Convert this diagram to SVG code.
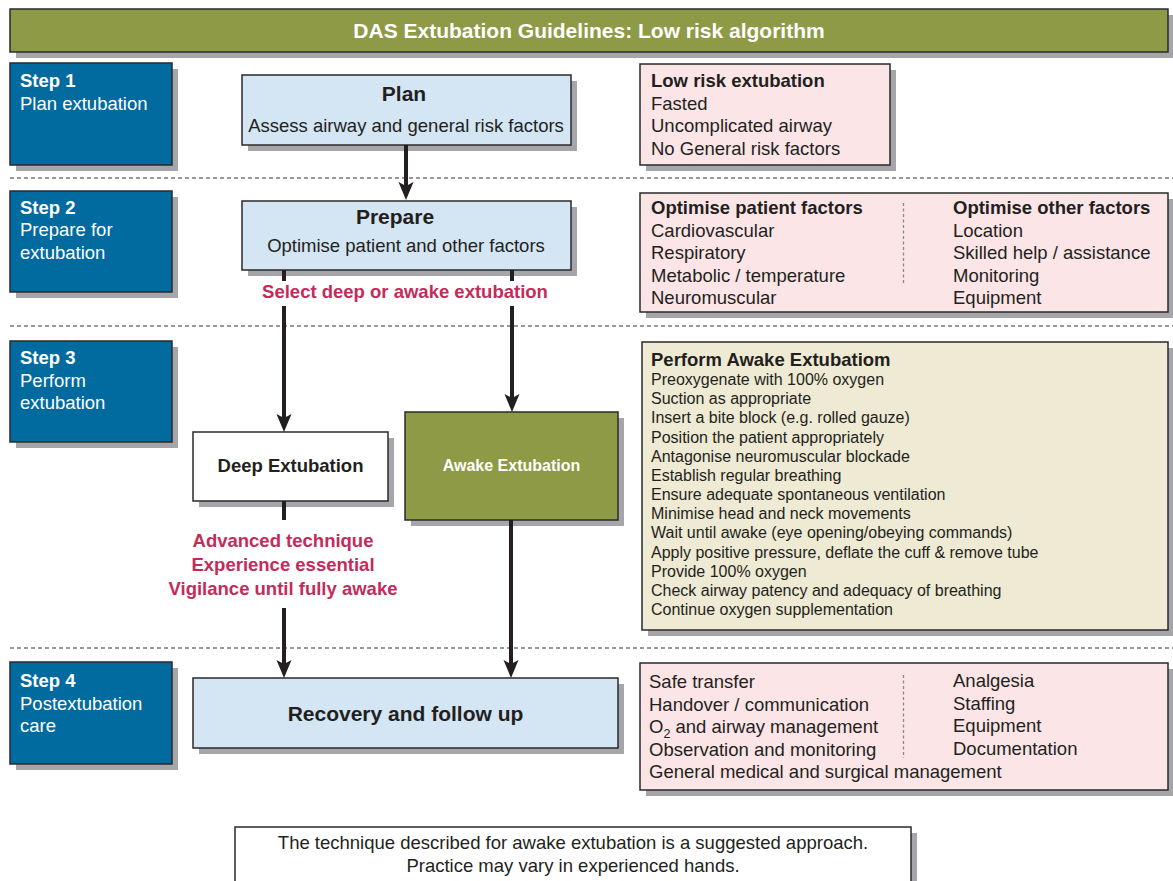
<svg xmlns="http://www.w3.org/2000/svg" width="1173" height="881" viewBox="0 0 1173 881">
  <style>
    text { font-family: "Liberation Sans", Arial, Helvetica, sans-serif; fill: #231f20; }
    .sh { fill: #a6a6aa; }
    .box { stroke: #2a2a2a; stroke-width: 1.5; }
    .olive { fill: #8e9a45; }
    .step { fill: #016a9f; }
    .blue { fill: #d4e5f4; }
    .pink { fill: #fbe5e7; }
    .beige { fill: #eeead3; }
    .white { fill: #ffffff; }
    .t { font-size: 18.5px; }
    .b { font-weight: bold; }
    .w { fill: #ffffff; }
    .h { font-size: 21px; font-weight: bold; }
    .red { fill: #c42b5b; font-size: 18.5px; font-weight: bold; }
    .small { font-size: 16px; }
    .mid { text-anchor: middle; }
    .sep { stroke: #333333; stroke-width: 1; stroke-dasharray: 4 3; fill: none; }
    .vsep { stroke: #8a8a8a; stroke-width: 1.3; stroke-dasharray: 3 2.5; fill: none; }
    .conn { stroke: #231f20; stroke-width: 4; fill: none; }
  </style>
  <defs>
    <marker id="ah" viewBox="0 0 18 16" refX="8" refY="8" markerWidth="18" markerHeight="16" markerUnits="userSpaceOnUse" orient="auto">
      <path d="M0,0.5 L18,8 L0,15.5 L4,8 Z" fill="#231f20"/>
    </marker>
  </defs>

  <!-- title bar -->
  <g id="title">
    <rect class="sh" x="16" y="15" width="1158" height="43"/>
    <rect class="olive box" x="10" y="9" width="1158" height="43"/>
    <text class="h w mid" x="589" y="37.5">DAS Extubation Guidelines: Low risk algorithm</text>
  </g>

  <!-- stage separators -->
  <g id="separators">
    <line class="sep" x1="10" y1="178" x2="1173" y2="178"/>
    <line class="sep" x1="10" y1="326" x2="1173" y2="326"/>
    <line class="sep" x1="10" y1="648" x2="1173" y2="648"/>
  </g>

  <!-- step labels -->
  <g id="step1">
    <rect class="sh" x="16" y="69" width="162" height="102"/>
    <rect class="step box" x="10" y="63" width="162" height="102"/>
    <text class="t w" x="20" y="87"><tspan class="b">Step 1</tspan><tspan x="20" dy="22.5">Plan extubation</tspan></text>
  </g>
  <g id="step2">
    <rect class="sh" x="16" y="197" width="162" height="101"/>
    <rect class="step box" x="10" y="191" width="162" height="101"/>
    <text class="t w" x="20" y="214"><tspan class="b">Step 2</tspan><tspan x="20" dy="22.3">Prepare for</tspan><tspan x="20" dy="22.3">extubation</tspan></text>
  </g>
  <g id="step3">
    <rect class="sh" x="16" y="347" width="162" height="101"/>
    <rect class="step box" x="10" y="341" width="162" height="101"/>
    <text class="t w" x="20" y="364"><tspan class="b">Step 3</tspan><tspan x="20" dy="22.5">Perform</tspan><tspan x="20" dy="22.5">extubation</tspan></text>
  </g>
  <g id="step4">
    <rect class="sh" x="16" y="668" width="162" height="102"/>
    <rect class="step box" x="10" y="662" width="162" height="102"/>
    <text class="t w" x="20" y="687"><tspan class="b">Step 4</tspan><tspan x="20" dy="22.5">Postextubation</tspan><tspan x="20" dy="22.5">care</tspan></text>
  </g>

  <!-- main flow boxes -->
  <g id="plan">
    <rect class="sh" x="248" y="81" width="329" height="70"/>
    <rect class="blue box" x="242" y="75" width="329" height="70"/>
    <text class="h mid" x="404" y="101">Plan</text>
    <text class="t mid" x="406" y="132">Assess airway and general risk factors</text>
  </g>
  <g id="prepare">
    <rect class="sh" x="248" y="207" width="329" height="69"/>
    <rect class="blue box" x="242" y="201" width="329" height="69"/>
    <text class="h mid" x="395" y="223.5">Prepare</text>
    <text class="t mid" x="406" y="252">Optimise patient and other factors</text>
  </g>
  <g id="deep">
    <rect class="sh" x="199" y="438" width="195" height="69"/>
    <rect class="white box" x="193" y="432" width="195" height="69"/>
    <text class="t b mid" x="290.5" y="472">Deep Extubation</text>
  </g>
  <g id="awake">
    <rect class="sh" x="411" y="418" width="213" height="108"/>
    <rect class="olive box" x="405" y="412" width="213" height="108"/>
    <text class="small b w mid" x="511.5" y="471">Awake Extubation</text>
  </g>
  <g id="recovery">
    <rect class="sh" x="199" y="684" width="425" height="70"/>
    <rect class="blue box" x="193" y="678" width="425" height="70"/>
    <text class="h mid" x="405.5" y="721">Recovery and follow up</text>
  </g>

  <!-- side panels -->
  <g id="lowrisk">
    <rect class="sh" x="646" y="70" width="250" height="101"/>
    <rect class="pink box" x="640" y="64" width="250" height="101"/>
    <text class="t" x="651" y="87"><tspan class="b">Low risk extubation</tspan><tspan x="651" dy="22.5">Fasted</tspan><tspan x="651" dy="22.5">Uncomplicated airway</tspan><tspan x="651" dy="22.5">No General risk factors</tspan></text>
  </g>
  <g id="optimise">
    <rect class="sh" x="646" y="199" width="528" height="119"/>
    <rect class="pink box" x="640" y="193" width="528" height="119"/>
    <line class="vsep" x1="903.5" y1="203" x2="903.5" y2="285"/>
    <text class="t" x="651" y="214"><tspan class="b">Optimise patient factors</tspan><tspan x="651" dy="22.5">Cardiovascular</tspan><tspan x="651" dy="22.5">Respiratory</tspan><tspan x="651" dy="22.5">Metabolic / temperature</tspan><tspan x="651" dy="22.5">Neuromuscular</tspan></text>
    <text class="t" x="953" y="214"><tspan class="b">Optimise other factors</tspan><tspan x="953" dy="22.5">Location</tspan><tspan x="953" dy="22.5">Skilled help / assistance</tspan><tspan x="953" dy="22.5">Monitoring</tspan><tspan x="953" dy="22.5">Equipment</tspan></text>
  </g>
  <g id="awake-steps">
    <rect class="sh" x="648" y="348" width="526" height="288"/>
    <rect class="beige box" x="642" y="342" width="526" height="288"/>
    <text class="t b" x="651" y="366">Perform Awake Extubatiom</text>
    <text class="small" x="651" y="385">
      <tspan x="651" dy="0">Preoxygenate with 100% oxygen</tspan>
      <tspan x="651" dy="19.17">Suction as appropriate</tspan>
      <tspan x="651" dy="19.17">Insert a bite block (e.g. rolled gauze)</tspan>
      <tspan x="651" dy="19.17">Position the patient appropriately</tspan>
      <tspan x="651" dy="19.17">Antagonise neuromuscular blockade</tspan>
      <tspan x="651" dy="19.17">Establish regular breathing</tspan>
      <tspan x="651" dy="19.17">Ensure adequate spontaneous ventilation</tspan>
      <tspan x="651" dy="19.17">Minimise head and neck movements</tspan>
      <tspan x="651" dy="19.17">Wait until awake (eye opening/obeying commands)</tspan>
      <tspan x="651" dy="19.17">Apply positive pressure, deflate the cuff &amp; remove tube</tspan>
      <tspan x="651" dy="19.17">Provide 100% oxygen</tspan>
      <tspan x="651" dy="19.17">Check airway patency and adequacy of breathing</tspan>
      <tspan x="651" dy="19.17">Continue oxygen supplementation</tspan>
    </text>
  </g>
  <g id="aftercare">
    <rect class="sh" x="646" y="669" width="528" height="127"/>
    <rect class="pink box" x="640" y="663" width="528" height="127"/>
    <line class="vsep" x1="903.5" y1="675" x2="903.5" y2="758"/>
    <text class="t" x="649" y="688">Safe transfer</text>
    <text class="t" x="649" y="710.5">Handover / communication</text>
    <text class="t" x="649" y="733">O<tspan font-size="12.5" dy="4.5">2</tspan><tspan dy="-4.5"> and airway management</tspan></text>
    <text class="t" x="649" y="755.5">Observation and monitoring</text>
    <text class="t" x="649" y="778">General medical and surgical management</text>
    <text class="t" x="953" y="687"><tspan>Analgesia</tspan><tspan x="953" dy="22.5">Staffing</tspan><tspan x="953" dy="22.5">Equipment</tspan><tspan x="953" dy="22.5">Documentation</tspan></text>
  </g>

  <!-- decision labels -->
  <g id="labels">
    <text class="red mid" x="405" y="298">Select deep or awake extubation</text>
    <text class="red mid" x="283" y="547">Advanced technique</text>
    <text class="red mid" x="283" y="571">Experience essential</text>
    <text class="red mid" x="283" y="595">Vigilance until fully awake</text>
  </g>

  <!-- connectors -->
  <g id="connectors">
    <line class="conn" x1="406" y1="145" x2="406" y2="190" marker-end="url(#ah)"/>
    <line class="conn" x1="284" y1="270" x2="284" y2="281"/>
    <line class="conn" x1="284" y1="306" x2="284" y2="422" marker-end="url(#ah)"/>
    <line class="conn" x1="512" y1="270" x2="512" y2="281"/>
    <line class="conn" x1="512" y1="306" x2="512" y2="402" marker-end="url(#ah)"/>
    <line class="conn" x1="284" y1="501" x2="284" y2="520"/>
    <line class="conn" x1="284" y1="608" x2="284" y2="668" marker-end="url(#ah)"/>
    <line class="conn" x1="511" y1="520" x2="511" y2="668" marker-end="url(#ah)"/>
  </g>

  <!-- footnote -->
  <g id="note">
    <rect class="sh" x="241" y="833" width="676" height="60"/>
    <rect class="white box" x="235" y="827" width="676" height="60"/>
    <text class="t mid" x="573" y="849">The technique described for awake extubation is a suggested approach.</text>
    <text class="t mid" x="573" y="871.5">Practice may vary in experienced hands.</text>
  </g>
</svg>
